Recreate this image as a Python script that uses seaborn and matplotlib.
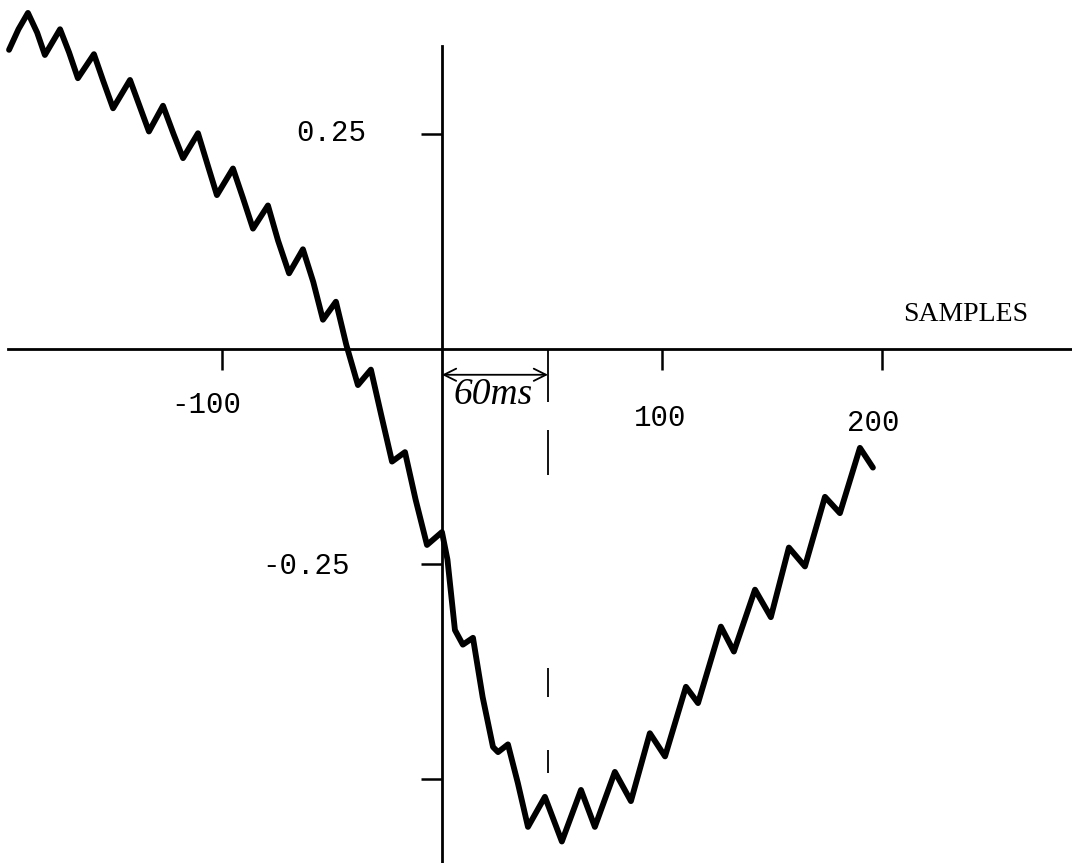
import matplotlib
matplotlib.use("Agg")
import matplotlib.pyplot as plt
import pandas as pd
import seaborn as sns

# curve (extrema of the ripple plus a few in-between points)
samples = [-196.8, -192.5, -188.2, -184.0, -180.5, -173.6, -169.5, -165.5,
           -158.2, -154.0, -149.5, -141.8, -137.5, -133.2, -126.8, -122.0,
           -117.7, -110.9, -106.5, -102.3, -95.0, -90.5, -85.9, -79.1,
           -74.5, -69.5, -63.2, -58.5, -54.1, -48.2, -43.5, -38.2,
           -32.3, -27.5, -22.7, -16.8, -12.0, -6.8, 0.0, 2.5,
           5.9, 9.5, 14.1, 18.5, 23.2, 25.5, 30.0, 34.5,
           39.1, 46.8, 54.5, 63.2, 69.5, 78.6, 85.9, 94.5,
           101.4, 110.9, 116.4, 126.8, 132.7, 142.3, 149.5, 157.7,
           165.0, 174.1, 180.9, 190.0, 195.9]
amplitude = [0.348, 0.372, 0.391, 0.368, 0.342, 0.372, 0.345, 0.315,
             0.343, 0.312, 0.280, 0.313, 0.283, 0.253, 0.283, 0.250,
             0.222, 0.251, 0.214, 0.179, 0.210, 0.176, 0.140, 0.167,
             0.126, 0.088, 0.116, 0.078, 0.034, 0.055, 0.005, -0.042,
             -0.024, -0.078, -0.131, -0.120, -0.175, -0.228, -0.213, -0.245,
             -0.327, -0.344, -0.336, -0.405, -0.463, -0.469, -0.460, -0.505,
             -0.556, -0.521, -0.573, -0.513, -0.556, -0.492, -0.526, -0.447,
             -0.474, -0.393, -0.412, -0.323, -0.352, -0.280, -0.312, -0.231,
             -0.253, -0.172, -0.191, -0.115, -0.138]

x_ticks = [-100, 100, 200]
x_tick_labels = ["-100", "100", "200"]
y_ticks = [0.25, -0.25, -0.5]
y_tick_labels = ["0.25", "-0.25"]

marker_sample = 48.2          # dashed 60 ms marker
dash_top = [-0.001, -0.094, -0.371, -0.466]
dash_bottom = [-0.062, -0.147, -0.405, -0.493]

df = pd.DataFrame({"sample": samples, "amp": amplitude})

sns.set_style("white")
plt.rcParams["font.family"] = ["Liberation Mono", "DejaVu Sans Mono"]

fig = plt.figure(figsize=(10.72, 8.63), dpi=100)
ax = fig.add_axes([0, 0, 1, 1])

sns.lineplot(data=df, x="sample", y="amp", sort=False, estimator=None,
             color="black", linewidth=4.2, ax=ax,
             solid_joinstyle="round", solid_capstyle="round")

ax.set_xlim(-200.9, 286.4)
ax.set_ylim(-0.598, 0.406)

# axes crossing at the origin
for side in ["top", "right"]:
    ax.spines[side].set_visible(False)
ax.spines["left"].set_position("zero")
ax.spines["bottom"].set_position("zero")
ax.spines["left"].set_bounds(-0.598, 0.353)
ax.spines["bottom"].set_bounds(-197.3, 286.4)
for side in ["left", "bottom"]:
    ax.spines[side].set_linewidth(2.0)
    ax.spines[side].set_color("black")

ax.set_xticks(x_ticks)
ax.set_yticks(y_ticks)
ax.set_xticklabels([])
ax.set_yticklabels([])
ax.tick_params(axis="both", direction="out", length=15, width=1.8,
               color="black", bottom=True, left=True)
ax.set_xlabel("")
ax.set_ylabel("")

# tick labels, placed as in the scan
txt = dict(fontsize=21, color="black", ha="center", va="center")
ax.text(-107, -0.065, x_tick_labels[0], **txt)
ax.text(99, -0.080, x_tick_labels[1], **txt)
ax.text(196, -0.086, x_tick_labels[2], **txt)
ax.text(-50.5, 0.251, y_tick_labels[0], **txt)
ax.text(-61.8, -0.252, y_tick_labels[1], **txt)
ax.text(238, 0.040, "SAMPLES", fontsize=20, color="black",
        ha="center", va="center", family=["Liberation Serif", "DejaVu Serif"])

# 60 ms marker
ax.vlines([marker_sample] * len(dash_top), dash_bottom, dash_top,
          color="black", linewidth=1.3)
ax.annotate("", xy=(marker_sample, -0.030), xytext=(0, -0.030),
            arrowprops=dict(arrowstyle="<->", lw=1.3, color="black",
                            shrinkA=0, shrinkB=0, mutation_scale=22))
ax.text(23.2, -0.053, "60ms", fontsize=27, style="italic", color="black",
        ha="center", va="center", family=["Liberation Serif", "DejaVu Serif"])

fig.savefig("out.png", dpi=100)
